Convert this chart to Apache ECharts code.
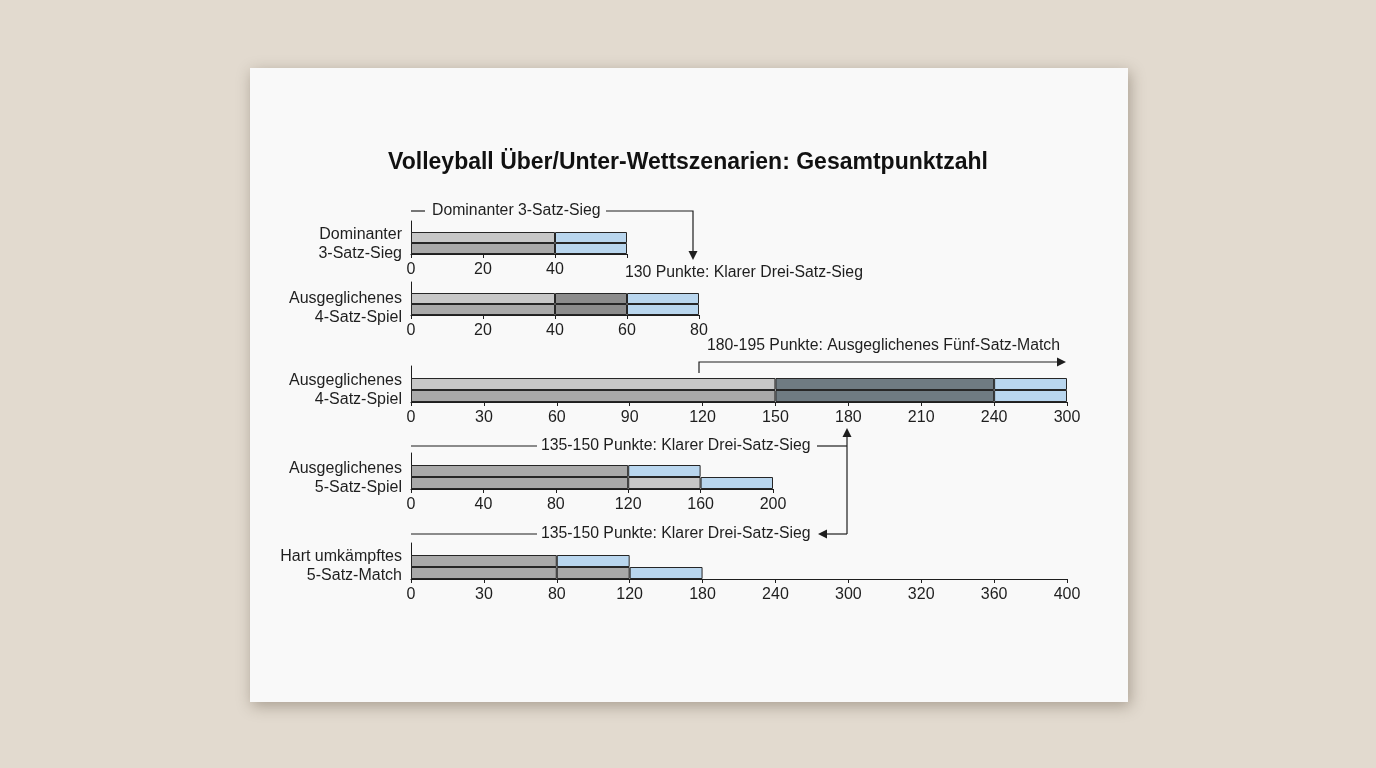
<!DOCTYPE html>
<html>
<head>
<meta charset="utf-8">
<script src="https://cdn.jsdelivr.net/npm/echarts@6/dist/echarts.min.js"></script>
<style>
  html, body { margin: 0; padding: 0; background: #e2dacf; }
  #chart { width: 1376px; height: 768px; }
</style>
</head>
<body>
<div id="chart"></div>
<script>
// Szenarien (je Panel eine Kategorie)
const scenarioNames = [
  'Dominanter\n3-Satz-Sieg',
  'Ausgeglichenes\n4-Satz-Spiel',
  'Ausgeglichenes\n4-Satz-Spiel',
  'Ausgeglichenes\n5-Satz-Spiel',
  'Hart umkämpftes\n5-Satz-Match'
]

// Achsenbeschriftungen je Panel (wie im Original, teils ungleichmäßig)
const ticks1 = [0, 20, 40, 60]
const ticks2 = [0, 20, 40, 60, 80]
const ticks3 = [0, 30, 60, 90, 120, 150, 180, 210, 240, 300]
const ticks4 = [0, 40, 80, 120, 160, 200]
const ticks5 = [0, 30, 80, 120, 180, 240, 300, 320, 360, 400]

// Segmentgrenzen (Punkte) je Zeile: [obere Zeile, untere Zeile]
const ends1 = [[40, 60], [40, 60]]
const ends2 = [[40, 60, 80], [40, 60, 80]]
const ends3 = [[150, 240, 300], [150, 240, 300]]
const ends4 = [[120, 160], [120, 160, 200]]
const ends5 = [[80, 120], [80, 120, 180]]

// Anmerkungen
const noteTexts = [
  'Dominanter 3-Satz-Sieg',
  '130 Punkte: Klarer Drei-Satz-Sieg',
  '180-195 Punkte: Ausgeglichenes Fünf-Satz-Match',
  '135-150 Punkte: Klarer Drei-Satz-Sieg',
  '135-150 Punkte: Klarer Drei-Satz-Sieg'
]

// ---- Darstellung ----
const LIGHT = '#c7c7c7', MID = '#a9a9a9', DARK = '#8c8c8c', SLATE = '#6f7b82', BLUE = '#b9d6ee'
const fills = [
  [[LIGHT, BLUE], [MID, BLUE]],
  [[LIGHT, DARK, BLUE], [MID, DARK, BLUE]],
  [[LIGHT, SLATE, BLUE], [MID, SLATE, BLUE]],
  [[MID, BLUE], [MID, LIGHT, BLUE]],
  [[MID, BLUE], [MID, MID, BLUE]]
]
const allTicks = [ticks1, ticks2, ticks3, ticks4, ticks5]
const allEnds = [ends1, ends2, ends3, ends4, ends5]
const barTop = [232, 293, 378, 465, 555]
const rowH = [11, 11, 12, 12, 12]
const axisWidth = [216, 288, 656, 362, 656]
// Abstandshalter über dem Kategorietext (verschiebt den Text nach unten)
const labelSpacer = [14, 20, 13, 15, 11]
const FONT = "'Liberation Sans', Arial, sans-serif"
const INK = '#1e1e1e'

// Wert -> Position auf der Achse (Index der Beschriftung, dazwischen linear)
function toSlot(ticks, v) {
  for (let i = 0; i < ticks.length - 1; i++) {
    if (v <= ticks[i + 1]) return i + (v - ticks[i]) / (ticks[i + 1] - ticks[i])
  }
  return ticks.length - 1
}

const grids = [], xAxes = [], yAxes = [], series = []
allTicks.forEach((ticks, pi) => {
  grids.push({
    left: 411,
    width: axisWidth[pi],
    top: barTop[pi] - rowH[pi],
    height: rowH[pi] * 3
  })
  xAxes.push({
    type: 'value',
    gridIndex: pi,
    min: 0,
    max: ticks.length - 1,
    interval: 1,
    splitLine: { show: false },
    axisLine: { show: true, lineStyle: { color: INK, width: 1 } },
    axisTick: { show: true, length: 4, lineStyle: { color: INK } },
    axisLabel: {
      margin: 8,
      fontSize: 16,
      fontFamily: FONT,
      color: INK,
      formatter: v => (pi === 0 && v === ticks.length - 1) ? '' : String(ticks[v])
    }
  })
  yAxes.push({
    type: 'category',
    gridIndex: pi,
    inverse: true,
    data: ['', 'oben', 'unten'],
    axisLine: { show: true, lineStyle: { color: INK, width: 1 } },
    axisTick: { show: false },
    axisLabel: { show: false },
    name: '{s| }\n' + scenarioNames[pi].split('\n').map(t => '{t|' + t + '}').join('\n'),
    nameLocation: 'middle',
    nameRotate: 0,
    nameGap: 9,
    nameTextStyle: {
      align: 'right',
      rich: {
        s: { fontSize: 2, height: labelSpacer[pi], lineHeight: labelSpacer[pi] },
        t: { fontSize: 16, fontFamily: FONT, color: INK, lineHeight: 19, align: 'right' }
      }
    }
  })
  const ends = allEnds[pi]
  const nSeg = Math.max(ends[0].length, ends[1].length)
  for (let k = 0; k < nSeg; k++) {
    const data = ['-']
    for (let r = 0; r < 2; r++) {
      const e = ends[r]
      if (k >= e.length) { data.push('-'); continue }
      const prev = k ? toSlot(ticks, e[k - 1]) : 0
      data.push({
        value: toSlot(ticks, e[k]) - prev,
        itemStyle: { color: fills[pi][r][k] }
      })
    }
    series.push({
      type: 'bar',
      xAxisIndex: pi,
      yAxisIndex: pi,
      stack: 'p' + pi,
      barWidth: rowH[pi],
      barCategoryGap: 0,
      silent: true,
      itemStyle: { borderColor: '#262626', borderWidth: 1 },
      data: data
    })
  }
})

// Pfeile und Beschriftungen
const line = pts => ({ type: 'polyline', shape: { points: pts }, style: { stroke: INK, lineWidth: 1.2, fill: null }, silent: true })
const head = pts => ({ type: 'polygon', shape: { points: pts }, style: { fill: INK }, silent: true })
const note = (x, y, t) => ({ type: 'text', x: x, y: y, style: { text: t, font: '15.8px ' + FONT, fill: INK, textVerticalAlign: 'middle' }, silent: true })

const graphic = [
  // Papier
  {
    type: 'rect', z: -10,
    shape: { x: 250, y: 68, width: 878, height: 634 },
    style: { fill: '#f9f9f9', shadowBlur: 14, shadowColor: 'rgba(60,45,30,0.35)', shadowOffsetX: 2, shadowOffsetY: 4 },
    silent: true
  },
  line([[411, 211], [425, 211]]),
  note(432, 211, noteTexts[0]),
  line([[606, 211], [693, 211], [693, 252]]),
  head([[688.5, 251], [697.5, 251], [693, 260]]),
  note(625, 273, noteTexts[1]),
  note(707, 346, noteTexts[2]),
  line([[699, 373], [699, 362], [1057, 362]]),
  head([[1057, 357.5], [1057, 366.5], [1066, 362]]),
  line([[411, 446], [537, 446]]),
  note(541, 446, noteTexts[3]),
  line([[817, 446], [847, 446]]),
  line([[847, 534], [847, 436]]),
  head([[842.5, 437], [851.5, 437], [847, 428]]),
  line([[411, 534], [537, 534]]),
  note(541, 534, noteTexts[4]),
  head([[827, 529.5], [827, 538.5], [818, 534]]),
  line([[827, 534], [847, 534]])
]

const option = {
  backgroundColor: '#e2dacf',
  animation: false,
  title: {
    text: 'Volleyball Über/Unter-Wettszenarien: Gesamtpunktzahl',
    left: 'center',
    top: 146,
    textStyle: { fontSize: 23, fontWeight: 'bold', fontFamily: FONT, color: '#111' }
  },
  grid: grids,
  xAxis: xAxes,
  yAxis: yAxes,
  series: series,
  graphic: graphic
}

const myChart = echarts.init(document.getElementById('chart'))
myChart.setOption(option)
</script>
</body>
</html>
